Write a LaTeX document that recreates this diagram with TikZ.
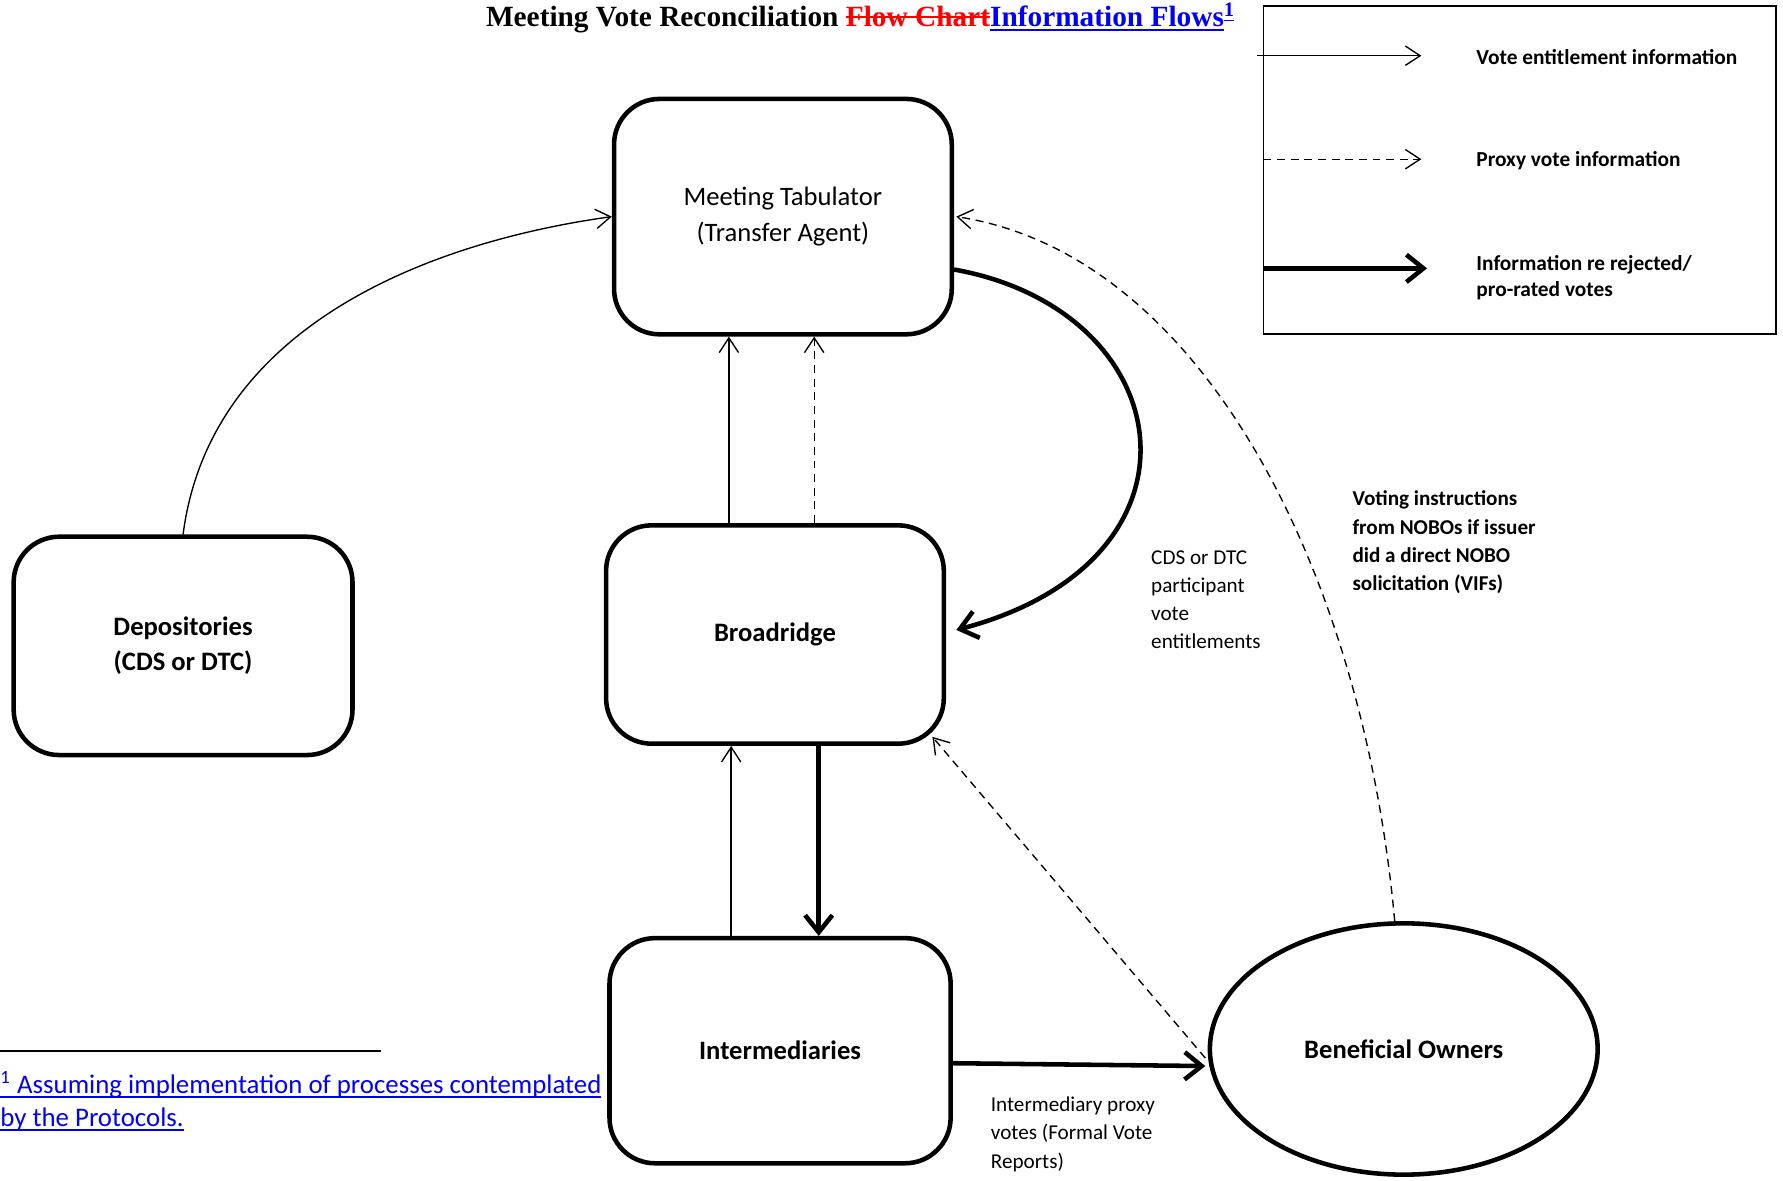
\documentclass[tikz,border=0pt]{standalone}
\usepackage{fontspec}
\setmainfont{Carlito}
\newfontfamily\titlefont{Liberation Serif}
\usetikzlibrary{arrows.meta, positioning, calc, shapes.geometric}
\newsavebox\mkbox
\newcommand{\undl}[1]{\sbox\mkbox{#1}\rlap{\usebox\mkbox}\rule[-2pt]{\wd\mkbox}{0.8pt}}
\newcommand{\strk}[1]{\sbox\mkbox{#1}\rlap{\usebox\mkbox}\rule[0.28em]{\wd\mkbox}{0.9pt}}
\tikzset{
  party/.style={rectangle,draw,line width=2pt,rounded corners=20pt,minimum width=148.5pt,minimum height=96pt,align=center,font=\fontsize{11.7}{15.5}\selectfont},
  party_b/.style={party,font=\fontsize{11.7}{15.5}\selectfont\bfseries},
  owner/.style={ellipse,draw,line width=2pt,minimum width=170.5pt,minimum height=110.5pt,font=\fontsize{11.7}{15.5}\selectfont\bfseries},
  entitle/.style={line width=0.6pt,-{Straight Barb[length=6.5pt,width=8.5pt]}},
  proxy/.style={entitle,dash pattern=on 3.5pt off 2.5pt},
  reject/.style={line width=2pt,-{Straight Barb[length=7.5pt,width=12pt]}},
  note/.style={inner sep=0pt,align=left,anchor=west,font=\fontsize{9.3}{12.4}\selectfont},
  note_b/.style={note,font=\fontsize{9.3}{12.4}\selectfont\bfseries},
  legendbox/.style={draw,line width=0.75pt,minimum width=225.5pt,minimum height=144.5pt},
  legendtext/.style={note_b,font=\fontsize{9.4}{11.5}\selectfont\bfseries},
}

\begin{document}
\begin{tikzpicture}[x=0.5pt,y=-0.5pt]
    \useasboundingbox (0,0) rectangle (1568,1038);
    % title
    \node[anchor=west,inner sep=0pt,font=\titlefont\fontsize{12.9}{15}\selectfont\bfseries] (TTL) at (427,16)
      {Meeting Vote Reconciliation \textcolor{red}{\strk{Flow Chart}}\textcolor{blue}{\undl{Information Flows}\textsuperscript{\undl{1}}}};

    % parties
    \node[party,minimum height=103.5pt] (MT) at (688.5,190.5) {Meeting Tabulator\\(Transfer Agent)};
    \node[party_b,below=82pt of MT,xshift=-3.5pt] (BR) {Broadridge};
    \node[party_b,below=83.5pt of BR,xshift=2.25pt,minimum width=150pt,minimum height=99pt] (INT) {Intermediaries};
    \node[party_b,minimum width=149pt] (DEP) at (161,568) {Depositories\\(CDS or DTC)};
    \node[owner] (BO) at (1234.5,922.5) {Beneficial Owners};

    % flows
    \draw[entitle] (DEP.north) .. controls +(24,-185) and +(-158,22) .. (MT.west);
    \draw[entitle] ($(BR.north)+(-40.5,0)$) coordinate (br1) -- (br1 |- MT.south);
    \draw[proxy] ($(BR.north)+(34.5,0)$) coordinate (br2) -- (br2 |- MT.south);
    \draw[reject] ($(MT.east)+(0,46.5)$) .. controls +(200,36) and +(232,-61) .. ($(BR.east)+(9,-4)$);
    \draw[proxy] ($(BO.north)+(-8,0)$) .. controls +(-27,-300) and +(220,34) .. ($(MT.east)+(2,0)$);
    \draw[reject] ($(BR.south)+(38.5,0)$) coordinate (br3) -- (br3 |- INT.north);
    \draw[entitle] ($(INT.north)+(-43,0)$) coordinate (in1) -- (in1 |- BR.south);
    \draw[proxy] ($(BO.west)+(-2,8)$) -- ($(BR.south east)+(-12,-8)$);
    \draw[reject] ($(INT.east)+(0,11)$) -- ($(BO.west)+(-2,15)$);

    % flow labels
    \node[note] (CDSL) at (1012,527.5) {CDS or DTC\\participant\\vote\\entitlements};
    \node[note_b] (VIFL) at (1189,477) {Voting instructions\\from NOBOs if issuer\\did a direct NOBO\\solicitation (VIFs)};
    \node[note] (FVRL) at (871,997.5) {Intermediary proxy\\votes (Formal Vote\\Reports)};

    % legend
    \node[legendbox] (LEG) at (1336.5,149.5) {};
    \coordinate (k1a) at (1105,49);  \coordinate (k1b) at (1250,49);
    \coordinate (k2a) at (1111,140); \coordinate (k2b) at (1250,140);
    \coordinate (k3a) at (1111,236); \coordinate (k3b) at (1255,236);
    \draw[entitle] (k1a) -- (k1b);
    \draw[proxy] (k2a) -- (k2b);
    \draw[reject] (k3a) -- (k3b);
    \node[legendtext] (LT1) at (1298,50) {Vote entitlement information};
    \node[legendtext] (LT2) at (1298,141) {Proxy vote information};
    \node[legendtext] (LT3) at (1298,244.5) {Information re rejected/\\pro-rated votes};

    % footnote
    \coordinate (fnA) at (0,924); \coordinate (fnB) at (335,924);
    \draw[line width=0.75pt] (fnA) -- (fnB);
    \node[anchor=west,inner sep=0pt,align=left,text=blue,font=\fontsize{11.8}{14.5}\selectfont] (FN) at (0,968.5)
      {\undl{\textsuperscript{1} Assuming implementation of processes contemplated}\\\undl{by the Protocols.}};
\end{tikzpicture}
\end{document}
